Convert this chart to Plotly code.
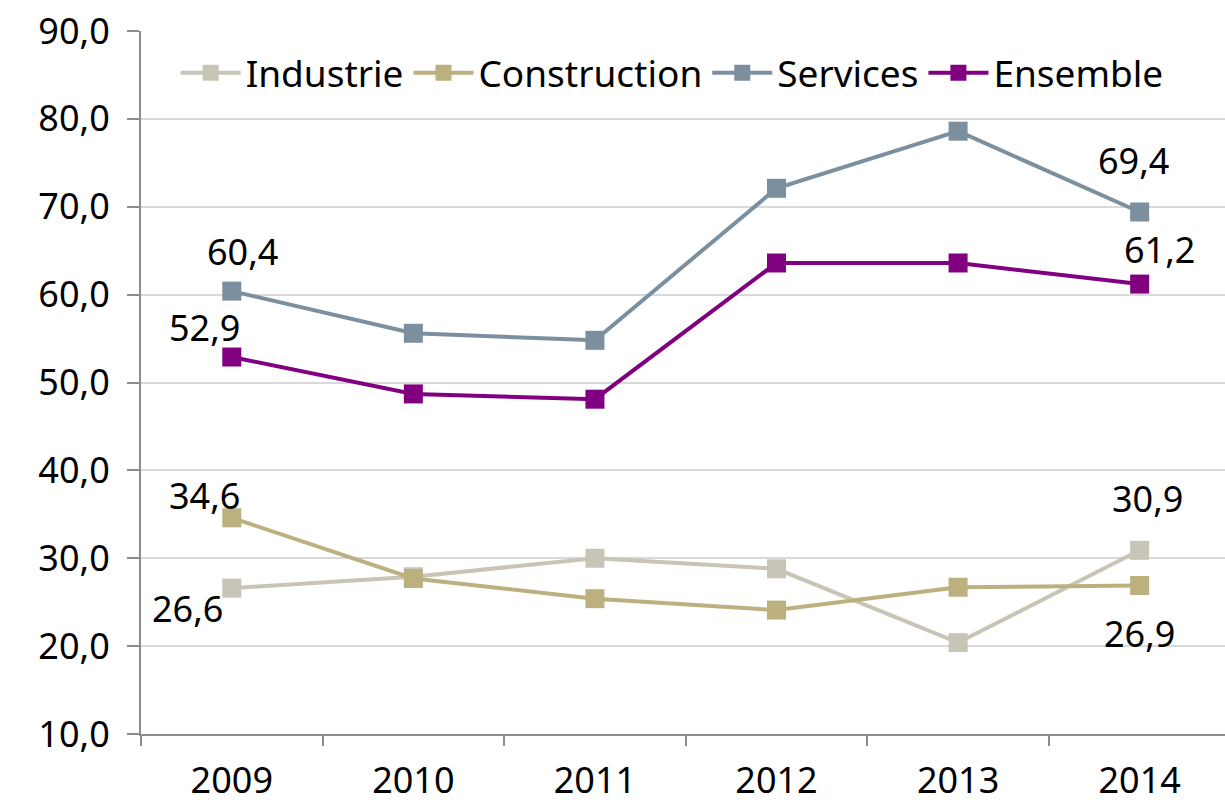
import plotly.graph_objects as go

years = ["2009", "2010", "2011", "2012", "2013", "2014"]
industrie = [26.6, 27.9, 30.0, 28.8, 20.4, 30.9]
construction = [34.6, 27.7, 25.4, 24.1, 26.7, 26.9]
services = [60.4, 55.6, 54.8, 72.1, 78.6, 69.4]
ensemble = [52.9, 48.7, 48.1, 63.6, 63.6, 61.2]
y_ticks = [10, 20, 30, 40, 50, 60, 70, 80, 90]

series = [
    ("Industrie", industrie, "#C8C5B7"),
    ("Construction", construction, "#BDB07F"),
    ("Services", services, "#7B8F9F"),
    ("Ensemble", ensemble, "#800080"),
]

fig = go.Figure()
for name, vals, color in series:
    fig.add_trace(
        go.Scatter(
            name=name,
            x=years,
            y=vals,
            mode="lines+markers",
            line=dict(color=color, width=4),
            marker=dict(symbol="square", size=19, color=color),
        )
    )

# label offsets (px) for first / last point of each series
shifts = {
    "Industrie": [(-44, -20), (8, 52)],
    "Construction": [(-27, 22), (0, -48)],
    "Services": [(11, 40), (-6, 52)],
    "Ensemble": [(-27, 30), (20, 35)],
}

font = "Noto Sans, Open Sans, sans-serif"
for name, vals, color in series:
    for idx, (dx, dy) in zip([0, len(years) - 1], shifts[name]):
        fig.add_annotation(
            x=idx,
            y=vals[idx],
            xref="x",
            yref="y",
            text=f"{vals[idx]:.1f}".replace(".", ","),
            showarrow=False,
            xshift=dx,
            yshift=dy,
            font=dict(size=36, color="black", family=font),
        )

fig.update_layout(
    width=1225,
    height=804,
    margin=dict(l=141, r=0, t=31, b=70),
    plot_bgcolor="white",
    paper_bgcolor="white",
    font=dict(family=font, size=36, color="black"),
    showlegend=True,
    legend=dict(
        orientation="h",
        x=0.49,
        xanchor="center",
        y=0.94,
        yanchor="middle",
        font=dict(size=37),
        itemwidth=60,
        bgcolor="rgba(0,0,0,0)",
    ),
)
fig.update_xaxes(
    type="category",
    range=[-0.5, 5.47],
    showline=True,
    linecolor="#8c8c8c",
    linewidth=2,
    ticks="outside",
    tickson="boundaries",
    ticklen=10,
    tickwidth=2,
    tickcolor="#8c8c8c",
    showgrid=False,
    ticklabelstandoff=14,
)
fig.update_yaxes(
    range=[10, 90],
    tickvals=y_ticks,
    ticktext=[f"{v:.1f}".replace(".", ",") for v in y_ticks],
    showline=True,
    linecolor="#8c8c8c",
    linewidth=2,
    ticks="outside",
    ticklen=12,
    tickwidth=2,
    tickcolor="#8c8c8c",
    showgrid=True,
    gridcolor="#d9d9d9",
    gridwidth=2,
    zeroline=False,
    ticklabelstandoff=10,
)

fig.write_html(
    "out.html",
    config={"displayModeBar": False},
    post_script="document.body.style.margin='0';",
)
